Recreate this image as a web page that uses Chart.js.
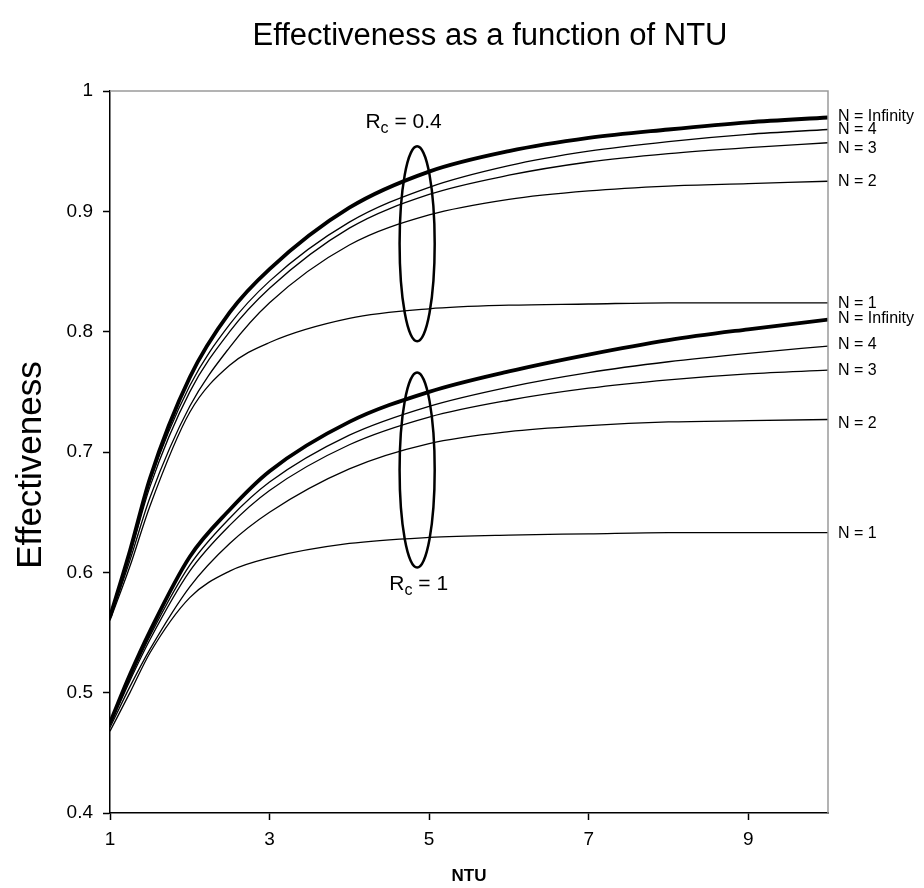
<!DOCTYPE html>
<html>
<head>
<meta charset="utf-8">
<title>Effectiveness as a function of NTU</title>
<script src="https://cdn.jsdelivr.net/npm/chart.js@4.4.1/dist/chart.umd.min.js"></script>
<style>
  html, body { margin: 0; padding: 0; background: #fff; }
  #wrap { width: 924px; height: 888px; }
</style>
</head>
<body>
<div id="wrap"><canvas id="chart" width="924" height="888"></canvas></div>
<script>
// NTU sample points (x)
const ntu = [1, 1.25, 1.5, 2, 2.5, 3, 4, 5, 6, 7, 8, 9, 10];

// Rc = 0.4 family
const rc04Inf = [0.563, 0.618, 0.678, 0.762, 0.816, 0.852, 0.903, 0.933, 0.950, 0.961, 0.968, 0.974, 0.978];
const rc04N4  = [0.563, 0.616, 0.675, 0.755, 0.806, 0.842, 0.891, 0.920, 0.938, 0.950, 0.958, 0.964, 0.968];
const rc04N3  = [0.562, 0.614, 0.671, 0.750, 0.800, 0.836, 0.886, 0.914, 0.930, 0.941, 0.948, 0.953, 0.957];
const rc04N2  = [0.561, 0.610, 0.662, 0.738, 0.787, 0.824, 0.872, 0.897, 0.910, 0.917, 0.921, 0.923, 0.925];
const rc04N1  = [0.560, 0.605, 0.655, 0.733, 0.772, 0.791, 0.811, 0.819, 0.822, 0.823, 0.824, 0.824, 0.824];

// Rc = 1 family
const rc1Inf = [0.475, 0.515, 0.551, 0.613, 0.652, 0.684, 0.725, 0.750, 0.767, 0.781, 0.793, 0.802, 0.810];
const rc1N4  = [0.474, 0.512, 0.547, 0.606, 0.645, 0.675, 0.714, 0.738, 0.754, 0.766, 0.775, 0.782, 0.788];
const rc1N3  = [0.473, 0.510, 0.544, 0.601, 0.639, 0.668, 0.706, 0.729, 0.743, 0.753, 0.760, 0.765, 0.768];
const rc1N2  = [0.471, 0.505, 0.536, 0.588, 0.624, 0.650, 0.686, 0.707, 0.717, 0.722, 0.725, 0.726, 0.727];
const rc1N1  = [0.468, 0.500, 0.533, 0.579, 0.601, 0.612, 0.624, 0.629, 0.631, 0.632, 0.633, 0.633, 0.633];

// tick labels
const xTicks = [1, 3, 5, 7, 9];
const yTicks = [0.4, 0.5, 0.6, 0.7, 0.8, 0.9, 1];

// series: [label, values, thick?]
const series = [
  ['N = Infinity', rc04Inf, true],
  ['N = 4', rc04N4, false],
  ['N = 3', rc04N3, false],
  ['N = 2', rc04N2, false],
  ['N = 1', rc04N1, false],
  ['N = Infinity', rc1Inf, true],
  ['N = 4', rc1N4, false],
  ['N = 3', rc1N3, false],
  ['N = 2', rc1N2, false],
  ['N = 1', rc1N1, false]
];
// small vertical nudges (px) for the end labels so they don't collide
const labelNudge = [-1, 0, 6, 0, 1, -1, -2, 0, 4, 1];

// ellipse markers around each family: [centre NTU, centre eff, half width NTU, half height eff]
const rcGroups = [
  { text: '0.4', ellipse: [4.85, 0.873, 0.22, 0.081], labelAt: [4.68, 0.969] },
  { text: '1', ellipse: [4.85, 0.685, 0.22, 0.081], labelAt: [4.87, 0.585] }
];

const datasets = series.map(([label, vals, thick]) => ({
  label: label,
  data: ntu.map((x, i) => ({ x: x, y: vals[i] })),
  borderColor: '#000',
  borderWidth: thick ? 3.8 : 1.3,
  pointRadius: 0,
  fill: false,
  cubicInterpolationMode: 'monotone'
}));

const FONT = '"Liberation Sans", Arial, sans-serif';

// draws the frame, ellipses and all the free text
const decorations = {
  id: 'decorations',
  afterDatasetsDraw(chart) {
    const ctx = chart.ctx;
    const area = chart.chartArea;
    const xs = chart.scales.x, ys = chart.scales.y;
    ctx.save();

    // gray top / right frame
    ctx.strokeStyle = '#9a9a9a';
    ctx.lineWidth = 1.5;
    ctx.beginPath();
    ctx.moveTo(area.left, area.top);
    ctx.lineTo(area.right, area.top);
    ctx.lineTo(area.right, area.bottom);
    ctx.stroke();

    // ellipses + Rc labels
    ctx.strokeStyle = '#000';
    ctx.fillStyle = '#000';
    ctx.lineWidth = 2.5;
    rcGroups.forEach(g => {
      const [cx, cy, hw, hh] = g.ellipse;
      const px = xs.getPixelForValue(cx);
      const py = ys.getPixelForValue(cy);
      const rx = Math.abs(xs.getPixelForValue(cx + hw) - px);
      const ry = Math.abs(ys.getPixelForValue(cy + hh) - py);
      ctx.beginPath();
      ctx.ellipse(px, py, rx, ry, 0, 0, Math.PI * 2);
      ctx.stroke();

      // "Rc = x" with subscript c
      const lx = xs.getPixelForValue(g.labelAt[0]);
      const ly = ys.getPixelForValue(g.labelAt[1]);
      ctx.textBaseline = 'alphabetic';
      ctx.font = '21px ' + FONT;
      const wR = ctx.measureText('R').width;
      ctx.font = '16px ' + FONT;
      const wc = ctx.measureText('c').width;
      ctx.font = '21px ' + FONT;
      const rest = ' = ' + g.text;
      const wRest = ctx.measureText(rest).width;
      const x0 = lx - (wR + wc + wRest) / 2;
      ctx.textAlign = 'left';
      ctx.fillText('R', x0, ly);
      ctx.font = '16px ' + FONT;
      ctx.fillText('c', x0 + wR, ly + 5);
      ctx.font = '21px ' + FONT;
      ctx.fillText(rest, x0 + wR + wc, ly);
    });

    // series labels at the right end
    ctx.font = '16px ' + FONT;
    ctx.textAlign = 'left';
    ctx.textBaseline = 'middle';
    series.forEach(([label, vals], i) => {
      ctx.fillText(label, area.right + 10, ys.getPixelForValue(vals[vals.length - 1]) + labelNudge[i]);
    });

    // title
    ctx.font = '31px ' + FONT;
    ctx.textAlign = 'center';
    ctx.textBaseline = 'middle';
    ctx.fillText('Effectiveness as a function of NTU', 490, 36);

    // axis titles
    ctx.font = 'bold 17px ' + FONT;
    ctx.fillText('NTU', (area.left + area.right) / 2, 876);

    ctx.translate(31, 465);
    ctx.rotate(-Math.PI / 2);
    ctx.font = '35px ' + FONT;
    ctx.fillText('Effectiveness', 0, 0);
    ctx.restore();
  }
};

new Chart(document.getElementById('chart'), {
  type: 'line',
  data: { datasets: datasets },
  options: {
    responsive: false,
    animation: false,
    devicePixelRatio: 1,
    layout: { padding: { top: 91, right: 96, left: 0, bottom: 0 } },
    plugins: {
      legend: { display: false },
      tooltip: { enabled: false }
    },
    scales: {
      x: {
        type: 'linear',
        min: 1,
        max: 10,
        afterBuildTicks: s => { s.ticks = xTicks.map(v => ({ value: v })); },
        afterFit: s => { s.height = 75; },
        grid: { drawOnChartArea: false, tickLength: 7, tickColor: '#000', tickWidth: 1.5 },
        border: { color: '#000', width: 1.5 },
        ticks: { color: '#000', padding: 8, font: { family: FONT, size: 19 } }
      },
      y: {
        min: 0.4,
        max: 1,
        afterBuildTicks: s => { s.ticks = yTicks.map(v => ({ value: v })); },
        afterFit: s => { s.width = 110; },
        grid: { drawOnChartArea: false, tickLength: 7, tickColor: '#000', tickWidth: 1.5 },
        border: { color: '#000', width: 1.5 },
        ticks: {
          color: '#000',
          padding: 10,
          font: { family: FONT, size: 19 },
          callback: v => String(Number(v.toFixed(1)))
        }
      }
    }
  },
  plugins: [decorations]
});
</script>
</body>
</html>
